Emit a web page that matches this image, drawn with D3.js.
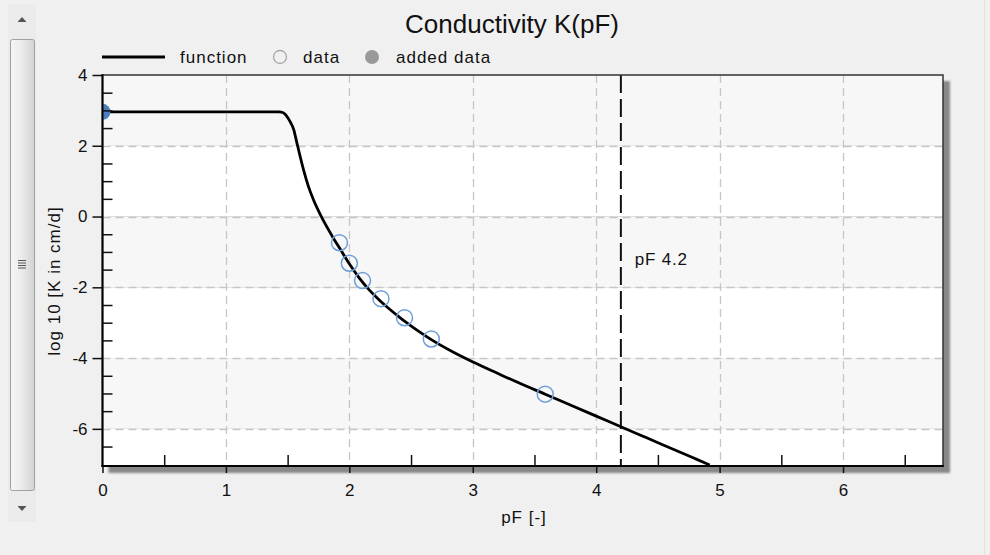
<!DOCTYPE html>
<html>
<head>
<meta charset="utf-8">
<script src="https://cdn.jsdelivr.net/npm/d3@7"></script>
<style>
  html, body { margin: 0; padding: 0; background: #f0f0f0; }
  svg { display: block; font-family: "Liberation Sans", Arial, sans-serif; }
</style>
</head>
<body>
<svg id="chart" width="990" height="555"></svg>
<script>
// Unsaturated conductivity curve log10 K versus pF
const curvePF = [0, 1.38, 1.43, 1.46, 1.48, 1.50, 1.52, 1.55, 1.575, 1.602, 1.629, 1.669, 1.710, 1.764, 1.818, 1.872, 1.926, 1.997, 2.078, 2.159, 2.24, 2.32, 2.40, 2.48, 2.56, 2.664, 2.84, 3.006, 3.20, 3.385, 3.587, 3.80, 4.00, 4.20, 4.40, 4.60, 4.80, 4.92];
const curveLogK = [2.96, 2.96, 2.955, 2.94, 2.89, 2.80, 2.68, 2.45, 2.08, 1.69, 1.32, 0.844, 0.467, 0.062, -0.294, -0.618, -0.92, -1.32, -1.725, -2.065, -2.35, -2.60, -2.83, -3.04, -3.24, -3.48, -3.83, -4.12, -4.43, -4.72, -5.02, -5.34, -5.64, -5.94, -6.24, -6.54, -6.84, -7.02];

// Measured points
const dataPF = [1.92, 2.00, 2.107, 2.256, 2.447, 2.664, 3.587];
const dataLogK = [-0.74, -1.32, -1.81, -2.32, -2.86, -3.46, -5.02];

// Added point (saturated conductivity)
const addedPF = [0];
const addedLogK = [2.96];

const xTickValues = [0, 1, 2, 3, 4, 5, 6];
const yTickValues = [4, 2, 0, -2, -4, -6];
const xMinorValues = [0.5, 1.5, 2.5, 3.5, 4.5, 5.5, 6.5];
const yMinorValues = [3.5, 3, 2.5, 1.5, 1, 0.5, -0.5, -1, -1.5, -2.5, -3, -3.5, -4.5, -5, -5.5, -6.5];
const wiltingPF = 4.2;
const wiltingLabel = "pF 4.2";

const titleText = "Conductivity K(pF)";
const xTitle = "pF [-]";
const yTitle = "log 10 [K in cm/d]";
const legendItems = ["function", "data", "added data"];

const svg = d3.select("#chart");
const pLeft = 102.5, pRight = 943, pTop = 75, pBottom = 466;

const x = d3.scaleLinear().domain([0, 6.81]).range([pLeft, pRight]);
const y = d3.scaleLinear().domain([-7.05, 4]).range([pBottom, pTop]);

// plain hyphen-minus labels
const tickLabel = d => String(d);

const defs = svg.append("defs");
defs.append("clipPath").attr("id", "plotClip")
  .append("rect").attr("x", pLeft).attr("y", pTop)
  .attr("width", pRight - pLeft).attr("height", pBottom - pTop);
const blur = defs.append("filter").attr("id", "soft")
  .attr("x", "-5%").attr("y", "-5%").attr("width", "110%").attr("height", "110%");
blur.append("feGaussianBlur").attr("stdDeviation", 0.8);

const thumbGrad = defs.append("linearGradient").attr("id", "thumbGrad")
  .attr("x1", "0").attr("x2", "1").attr("y1", "0").attr("y2", "0");
thumbGrad.append("stop").attr("offset", "0").attr("stop-color", "#f6f6f6");
thumbGrad.append("stop").attr("offset", "0.45").attr("stop-color", "#ececec");
thumbGrad.append("stop").attr("offset", "1").attr("stop-color", "#d2d2d2");

// ---- vertical scrollbar on the left ----
const sb = svg.append("g");
sb.append("rect").attr("x", 8).attr("y", 4).attr("width", 28).attr("height", 518)
  .attr("fill", "#ebebeb");
sb.append("path").attr("d", "M17.5,22 L22,17 L26.5,22 Z").attr("fill", "#555");
sb.append("rect").attr("x", 10.5).attr("y", 39.5).attr("width", 24).attr("height", 451)
  .attr("rx", 2).attr("fill", "url(#thumbGrad)").attr("stroke", "#a0a0a0");
for (let i = 0; i < 4; i++) {
  sb.append("line").attr("x1", 18).attr("x2", 26)
    .attr("y1", 260.5 + i * 2.5).attr("y2", 260.5 + i * 2.5)
    .attr("stroke", "#555").attr("stroke-width", 1);
}
sb.append("path").attr("d", "M17.5,506 L26.5,506 L22,511 Z").attr("fill", "#555");
svg.append("line").attr("x1", 984.5).attr("x2", 984.5).attr("y1", 0).attr("y2", 555)
  .attr("stroke", "#e2e2e2");

// ---- title ----
svg.append("text").attr("x", 512).attr("y", 33).attr("text-anchor", "middle")
  .attr("font-size", 26).attr("fill", "#111").text(titleText);

// ---- legend ----
const lg = svg.append("g").attr("font-size", 17).attr("fill", "#111");
lg.append("line").attr("x1", 102).attr("x2", 165).attr("y1", 57).attr("y2", 57)
  .attr("stroke", "#000").attr("stroke-width", 3);
lg.append("text").attr("x", 180).attr("y", 63).attr("letter-spacing", 1).text(legendItems[0]);
lg.append("circle").attr("cx", 280).attr("cy", 57).attr("r", 6.5)
  .attr("fill", "none").attr("stroke", "#a8a8a8").attr("stroke-width", 1.3);
lg.append("text").attr("x", 303).attr("y", 63).attr("letter-spacing", 1).text(legendItems[1]);
lg.append("circle").attr("cx", 372).attr("cy", 57).attr("r", 7).attr("fill", "#999");
lg.append("text").attr("x", 396).attr("y", 63).attr("letter-spacing", 1).text(legendItems[2]);

// ---- plot frame shadow ----
svg.append("rect").attr("x", pLeft + 6).attr("y", pTop + 6)
  .attr("width", pRight - pLeft + 1).attr("height", pBottom - pTop + 1)
  .attr("fill", "#888").attr("filter", "url(#soft)");

// ---- alternating bands between major y ticks ----
const bandEdges = yTickValues.concat([y.domain()[0]]);
const bands = d3.pairs(bandEdges);
svg.append("g").selectAll("rect").data(bands).join("rect")
  .attr("x", pLeft).attr("width", pRight - pLeft)
  .attr("y", d => y(d[0])).attr("height", d => y(d[1]) - y(d[0]))
  .attr("fill", (d, i) => i % 2 === 0 ? "#f7f7f7" : "#ffffff");

// ---- dashed grid ----
const grid = svg.append("g").attr("stroke", "#c6c6c6").attr("stroke-width", 1.3)
  .attr("stroke-dasharray", "8,5");
grid.selectAll("line.v").data(xTickValues.filter(v => v > 0)).join("line")
  .attr("class", "v").attr("x1", d => Math.round(x(d)) + 0.5).attr("x2", d => Math.round(x(d)) + 0.5)
  .attr("y1", pTop).attr("y2", pBottom);
grid.selectAll("line.h").data(yTickValues.filter(v => v < 4)).join("line")
  .attr("class", "h").attr("y1", d => Math.round(y(d)) + 0.5).attr("y2", d => Math.round(y(d)) + 0.5)
  .attr("x1", pLeft).attr("x2", pRight);

// ---- pF 4.2 marker ----
svg.append("line").attr("x1", x(wiltingPF)).attr("x2", x(wiltingPF))
  .attr("y1", pTop).attr("y2", pBottom)
  .attr("stroke", "#111").attr("stroke-width", 2).attr("stroke-dasharray", "18,6");
svg.append("text").attr("x", x(wiltingPF) + 14).attr("y", 265).attr("letter-spacing", 0.8)
  .attr("font-size", 17).attr("fill", "#111").text(wiltingLabel);

// ---- frame ----
svg.append("rect").attr("x", pLeft).attr("y", pTop)
  .attr("width", pRight - pLeft).attr("height", pBottom - pTop)
  .attr("fill", "none").attr("stroke", "#333").attr("stroke-width", 1.5);

// ---- data ----
const plot = svg.append("g").attr("clip-path", "url(#plotClip)");
const curve = curvePF.map((p, i) => [p, curveLogK[i]]);
plot.append("path").datum(curve)
  .attr("d", d3.line().x(d => x(d[0])).y(d => y(d[1])).curve(d3.curveMonotoneX))
  .attr("fill", "none").attr("stroke", "#000").attr("stroke-width", 2.8)
  .attr("stroke-linejoin", "round");

plot.selectAll("circle.data").data(dataPF.map((p, i) => [p, dataLogK[i]])).join("circle")
  .attr("class", "data").attr("cx", d => x(d[0])).attr("cy", d => y(d[1])).attr("r", 8)
  .attr("fill", "none").attr("stroke", "#6f9fd8").attr("stroke-width", 1.5);

plot.selectAll("circle.added").data(addedPF.map((p, i) => [p, addedLogK[i]])).join("circle")
  .attr("class", "added").attr("cx", d => x(d[0])).attr("cy", d => y(d[1])).attr("r", 8)
  .attr("fill", "#4c7fc0");

// ---- axes ----
const xAxis = svg.append("g").attr("transform", `translate(0,${pBottom})`)
  .call(d3.axisBottom(x).tickValues(xTickValues).tickSize(7).tickPadding(11).tickFormat(tickLabel));
const yAxis = svg.append("g").attr("transform", `translate(${pLeft},0)`)
  .call(d3.axisLeft(y).tickValues(yTickValues).tickSize(10).tickPadding(5).tickFormat(tickLabel));
const xMinor = svg.append("g").attr("transform", `translate(0,${pBottom})`)
  .call(d3.axisBottom(x).tickValues(xMinorValues).tickSize(-11).tickFormat(""));
const yMinor = svg.append("g").attr("transform", `translate(${pLeft},0)`)
  .call(d3.axisLeft(y).tickValues(yMinorValues).tickSize(-10).tickFormat(""));

[xAxis, yAxis, xMinor, yMinor].forEach(g => {
  g.select(".domain").remove();
  g.selectAll(".tick line").attr("stroke", "#111").attr("stroke-width", 1.5);
  g.selectAll(".tick text").attr("font-size", 17).attr("fill", "#111")
    .attr("font-family", "'Liberation Sans', Arial, sans-serif");
});

// axis lines on the left and bottom
svg.append("line").attr("x1", pLeft).attr("x2", pLeft).attr("y1", pTop - 0.75).attr("y2", pBottom + 1)
  .attr("stroke", "#000").attr("stroke-width", 2);
svg.append("line").attr("x1", pLeft - 1).attr("x2", pRight + 0.75).attr("y1", pBottom).attr("y2", pBottom)
  .attr("stroke", "#000").attr("stroke-width", 2);

// ---- axis titles ----
svg.append("text").attr("x", 524).attr("y", 523).attr("text-anchor", "middle")
  .attr("letter-spacing", 1).attr("font-size", 17).attr("fill", "#111").text(xTitle);
svg.append("text").attr("transform", "translate(59.5,281) rotate(-90)")
  .attr("text-anchor", "middle").attr("letter-spacing", 1)
  .attr("font-size", 17).attr("fill", "#111").text(yTitle);
</script>
</body>
</html>
